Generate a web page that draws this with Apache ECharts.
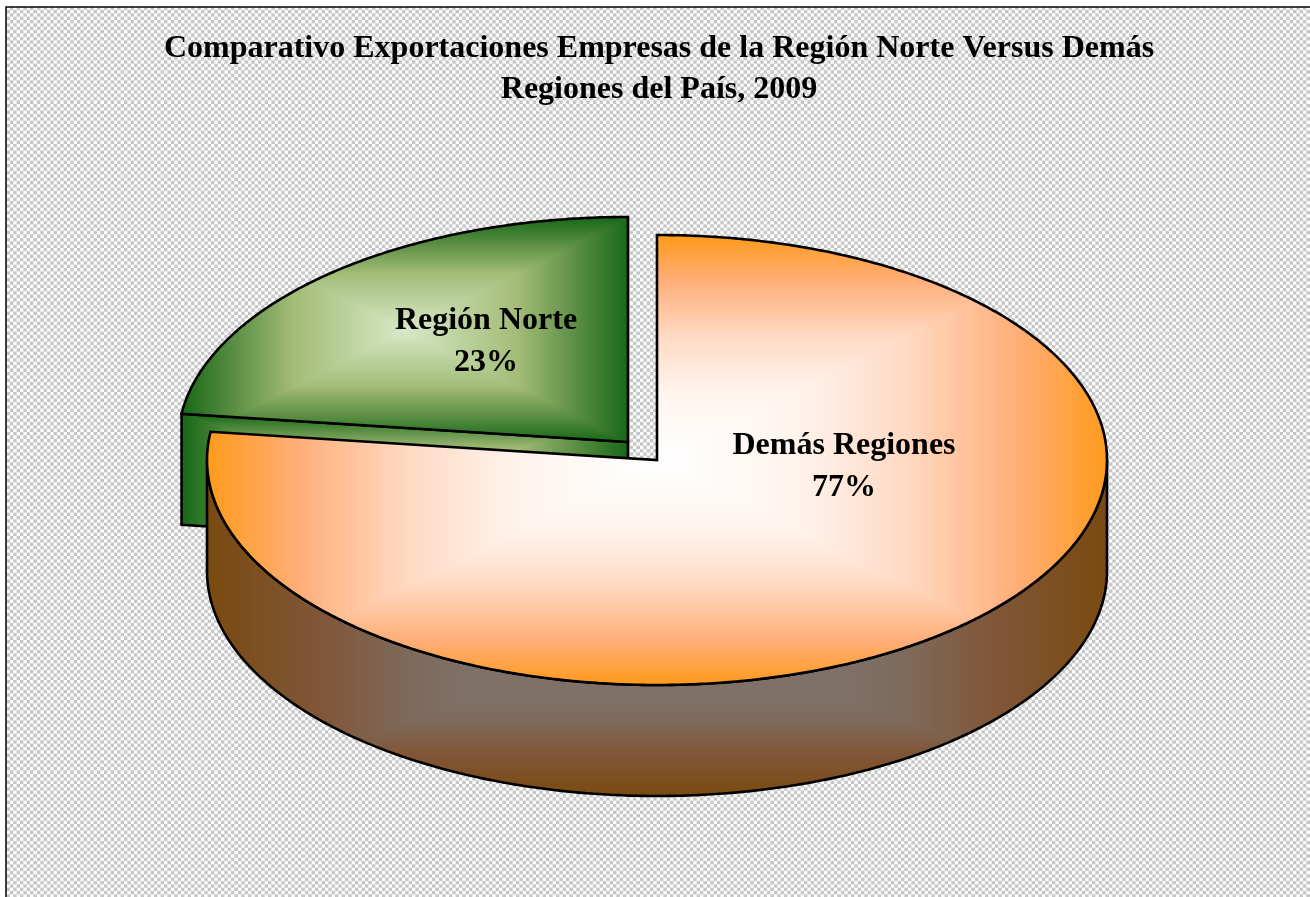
<!DOCTYPE html>
<html>
<head>
<meta charset="utf-8">
<style>html,body{margin:0;padding:0;background:#fff;overflow:hidden}#c{width:1310px;height:897px}</style>
<script src="https://cdn.jsdelivr.net/npm/echarts@6/dist/echarts.min.js"></script>
</head>
<body>
<div id="c"></div>
<script>
const titleLines = ['Comparativo Exportaciones Empresas de la Región Norte Versus Demás', 'Regiones del País, 2009'];
const categories = ['Región Norte', 'Demás Regiones'];
const shares = [23, 77];
const exploded = [true, false];

const W = 1310, H = 897;
const geo = { cx: 657, cy: 460, rx: 450, ry: 225, depth: 111, ox: -29, oy: -18 };
const labelPos = [[486, 342], [844, 467]];
const FONT = '"Liberation Serif","Times New Roman",serif';

const ramps = {
  orange: [[0, [255, 255, 255]], [0.3, [255, 244, 238]], [0.55, [255, 218, 196]], [0.8, [255, 174, 120]], [1, [255, 154, 26]]],
  green: [[0, [216, 232, 200]], [0.25, [188, 210, 158]], [0.5, [164, 188, 120]], [0.75, [95, 145, 70]], [1, [24, 104, 24]]],
  brown: [[0, [127, 114, 106]], [0.4, [127, 113, 104]], [0.55, [126, 106, 92]], [0.75, [128, 86, 56]], [1, [122, 74, 16]]]
};
function sample(r, t) {
  for (let i = 1; i < r.length; i++) {
    if (t <= r[i][0]) {
      const a = r[i - 1], b = r[i], k = (t - a[0]) / (b[0] - a[0]);
      return [0, 1, 2].map(j => a[1][j] + (b[1][j] - a[1][j]) * k);
    }
  }
  return r[r.length - 1][1];
}
function rectGradient(x0, y0, x1, y1, ramp) {
  const c = document.createElement('canvas');
  c.width = W; c.height = H;
  const g = c.getContext('2d');
  const img = g.createImageData(W, H), d = img.data;
  const mx = (x0 + x1) / 2, my = (y0 + y1) / 2, hw = (x1 - x0) / 2, hh = (y1 - y0) / 2;
  const ys = Math.max(0, Math.floor(y0) - 4), ye = Math.min(H, Math.ceil(y1) + 4);
  const xs = Math.max(0, Math.floor(x0) - 4), xe = Math.min(W, Math.ceil(x1) + 4);
  for (let y = ys; y < ye; y++) {
    for (let x = xs; x < xe; x++) {
      const t = Math.min(1, Math.max(Math.abs(x - mx) / hw, Math.abs(y - my) / hh));
      const col = sample(ramp, t), p = (y * W + x) * 4;
      d[p] = col[0]; d[p + 1] = col[1]; d[p + 2] = col[2]; d[p + 3] = 255;
    }
  }
  g.putImageData(img, 0, 0);
  return { image: c, repeat: 'no-repeat' };
}
function hatch() {
  const c = document.createElement('canvas');
  c.width = W; c.height = H;
  const g = c.getContext('2d');
  const img = g.createImageData(W, H), d = img.data, per = 6.7;
  for (let y = 0; y < H; y++) {
    for (let x = 0; x < W; x++) {
      let s = 0;
      for (let a = 0; a < 3; a++) for (let b = 0; b < 3; b++) {
        const u = Math.floor((x + (a + .5) / 3) / (per / 2)), v = Math.floor((y + (b + .5) / 3) / (per / 2));
        s += (u + v) % 2;
      }
      const val = 252 - s / 9 * 54, p = (y * W + x) * 4;
      d[p] = d[p + 1] = d[p + 2] = val; d[p + 3] = 255;
    }
  }
  g.putImageData(img, 0, 0);
  return { image: c, repeat: 'no-repeat' };
}

const total = shares.reduce((a, b) => a + b, 0);
// The larger slice starts at twelve o'clock and runs clockwise; the other follows it.
const order = [1, 0];
const starts = {};
order.reduce((acc, i) => { starts[i] = acc; return acc + shares[i] / total * 360; }, 0);

function rim(cx, cy, a0, a1, dy) {
  const pts = [], n = Math.max(2, Math.ceil(Math.abs(a1 - a0) * 2));
  for (let i = 0; i <= n; i++) {
    const a = (a0 + (a1 - a0) * i / n) * Math.PI / 180;
    pts.push([cx + geo.rx * Math.sin(a), cy + dy - geo.ry * Math.cos(a)]);
  }
  return pts;
}
const line = { stroke: '#000', lineWidth: 2.6, lineJoin: 'miter' };

const fills = {
  orangeTop: rectGradient(geo.cx - geo.rx, geo.cy - geo.ry, geo.cx + geo.rx, geo.cy + geo.ry, ramps.orange),
  orangeSide: rectGradient(geo.cx - geo.rx, geo.cy, geo.cx + geo.rx, geo.cy + geo.ry + geo.depth, ramps.brown),
  greenTop: rectGradient(geo.cx + geo.ox - geo.rx * 0.992, geo.cy + geo.oy - geo.ry, geo.cx + geo.ox, geo.cy + geo.oy, ramps.green),
  greenSide: rectGradient(geo.cx + geo.ox - geo.rx * 0.992, geo.cy + geo.oy - 28, geo.cx + geo.ox, geo.cy + geo.oy + geo.depth, ramps.green),
  back: hatch()
};

function renderSlice(params, api) {
  const i = params.dataIndex, v = api.value(0);
  const a0 = starts[i], a1 = a0 + v / total * 360;
  const cx = geo.cx + (exploded[i] ? geo.ox : 0), cy = geo.cy + (exploded[i] ? geo.oy : 0);
  const top = [[cx, cy]].concat(rim(cx, cy, a0, a1, 0));
  const kids = [];
  if (exploded[i]) {
    const e = rim(cx, cy, a0, a0, 0)[0];
    kids.push({ type: 'polygon', shape: { points: [[cx, cy], e, [e[0], e[1] + geo.depth], [cx, cy + geo.depth]] },
      style: Object.assign({ fill: fills.greenSide }, line) });
    kids.push({ type: 'polygon', shape: { points: top }, style: Object.assign({ fill: fills.greenTop }, line) });
  } else {
    const side = rim(cx, cy, 90, 270, 0).concat(rim(cx, cy, 270, 90, geo.depth));
    kids.push({ type: 'polygon', shape: { points: side }, style: Object.assign({ fill: fills.orangeSide }, line) });
    kids.push({ type: 'polygon', shape: { points: top }, style: Object.assign({ fill: fills.orangeTop }, line) });
  }
  kids.push({ type: 'text', style: {
    text: categories[i] + '\n' + Math.round(v / total * 100) + '%',
    x: labelPos[i][0], y: labelPos[i][1], align: 'center', verticalAlign: 'middle',
    font: 'bold 32px ' + FONT, lineHeight: 42, fill: '#000'
  } });
  return { type: 'group', children: kids };
}

const chart = echarts.init(document.getElementById('c'), null, { renderer: 'canvas', width: W, height: H });
chart.setOption({
  animation: false,
  backgroundColor: '#fff',
  title: {
    text: titleLines.join('\n'), left: 654, top: 23, textAlign: 'center',
    textStyle: { fontFamily: FONT, fontWeight: 'bold', fontSize: 32, lineHeight: 41, color: '#000' }
  },
  graphic: [{ type: 'rect', z: -10, shape: { x: 6, y: 7, width: W + 20, height: H + 20 },
    style: { fill: fills.back, stroke: '#000', lineWidth: 1.5 } }],
  series: [{
    type: 'custom', coordinateSystem: 'none', renderItem: renderSlice,
    data: shares.map((v, i) => ({ name: categories[i], value: [v] }))
  }]
});
</script>
</body>
</html>
